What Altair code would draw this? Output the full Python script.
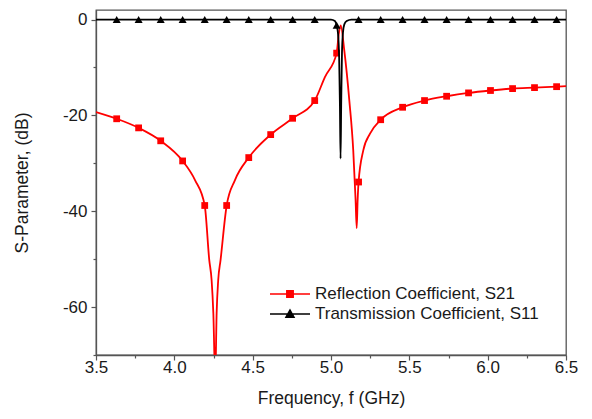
import altair as alt
import pandas as pd

series_names = ["Reflection Coefficient, S21", "Transmission Coefficient, S11"]

red_freq = [3.5, 3.632, 3.772, 3.913, 4.053, 4.132, 4.194, 4.223, 4.238, 4.249, 4.261,
            4.27, 4.28, 4.295, 4.334, 4.387, 4.475, 4.615, 4.755, 4.896, 4.961, 5.036,
            5.05, 5.062, 5.085, 5.117, 5.142, 5.157, 5.164, 5.170, 5.176, 5.206, 5.249,
            5.317, 5.457, 5.597, 5.738, 5.878, 6.018, 6.159, 6.299, 6.44, 6.5]
red_db = [-19.3, -20.7, -22.6, -25.3, -29.5, -33.5, -38.8, -50.2, -54.4, -61.3, -75.0,
          -61.3, -54.4, -50.2, -38.8, -33.5, -28.8, -24.0, -20.6, -16.9, -12.0, -7.0,
          -2.9, -1.2, -6.5, -16.9, -27.3, -37.7, -43.5, -37.7, -33.9, -27.3, -23.8,
          -20.9, -18.3, -16.9, -16.0, -15.3, -14.8, -14.4, -14.2, -14.0, -13.9]

black_freq = [3.5, 4.0, 4.5, 5.0, 5.025, 5.036, 5.045, 5.052, 5.057, 5.061, 5.065,
              5.07, 5.077, 5.085, 5.1, 5.13, 5.5, 6.0, 6.5]
black_db = [0, 0, 0, 0, -0.3, -1.2, -3.0, -8.0, -18.0, -29.0, -18.0,
            -7.0, -2.5, -1.0, -0.3, 0, 0, 0, 0]

marker_freq = [3.632, 3.772, 3.913, 4.053, 4.194, 4.334, 4.475, 4.615, 4.755, 4.896,
               5.036, 5.176, 5.317, 5.457, 5.597, 5.738, 5.878, 6.018, 6.159, 6.299, 6.44]
red_marker_db = [-20.7, -22.6, -25.3, -29.5, -38.8, -38.8, -28.8, -24.0, -20.6, -16.9,
                 -7.0, -33.9, -20.9, -18.3, -16.9, -16.0, -15.3, -14.8, -14.4, -14.2, -14.0]
black_marker_db = [0, 0, 0, 0, 0, 0, 0, 0, 0, 0,
                   -1.2, 0, 0, 0, 0, 0, 0, 0, 0, 0, 0]

x_ticks = [3.5, 3.75, 4.0, 4.25, 4.5, 4.75, 5.0, 5.25, 5.5, 5.75, 6.0, 6.25, 6.5]
y_ticks = [0, -10, -20, -30, -40, -50, -60, -70]

FONT = "Liberation Sans"
AX = "#555555"
TXT = "#1a1a1a"

major_x = "abs(datum.value*2 - round(datum.value*2)) < 0.01"
x_axis = alt.Axis(
    values=x_ticks, title="Frequency, f (GHz)", grid=False,
    labelExpr=f"{major_x} ? format(datum.value, '.1f') : ''",
    tickSize={"condition": {"test": major_x, "value": 5}, "value": 3},
    domainColor=AX, tickColor=AX, domainWidth=1.3, tickWidth=1.2,
    labelFont=FONT, labelFontSize=17, labelColor=TXT, labelPadding=-1,
    labelOverlap=False, labelFlush=False,
    titleFont=FONT, titleFontSize=17.5, titleFontWeight="normal", titleColor=TXT,
    titlePadding=14,
)
y_axis = alt.Axis(
    values=y_ticks, title="S-Parameter, (dB)", grid=False,
    labelExpr="datum.value % 20 == 0 ? datum.value + '' : ''",
    tickSize={"condition": {"test": "datum.value % 20 == 0", "value": 5}, "value": 3},
    domainColor=AX, tickColor=AX, domainWidth=1.3, tickWidth=1.2,
    labelFont=FONT, labelFontSize=17, labelColor=TXT, labelPadding=4,
    labelOverlap=False, labelFlush=False,
    titleFont=FONT, titleFontSize=17.5, titleFontWeight="normal", titleColor=TXT,
    titlePadding=31,
)

xs = alt.Scale(domain=[3.5, 6.5], nice=False, zero=False)
ys = alt.Scale(domain=[-70, 2], nice=False, zero=False)

def X():
    return alt.X("f:Q", scale=xs, axis=x_axis)

def Y():
    return alt.Y("db:Q", scale=ys, axis=y_axis)

red_df = pd.DataFrame({"f": red_freq, "db": red_db})
black_df = pd.DataFrame({"f": black_freq, "db": black_db})
red_m = pd.DataFrame({"f": marker_freq, "db": red_marker_db})
black_m = pd.DataFrame({"f": marker_freq, "db": black_marker_db})
leg_df = pd.DataFrame({"series": series_names, "f": [4.0, 4.0], "db": [-60.0, -60.0]})

red_line = alt.Chart(red_df).mark_line(color="#ff0000", strokeWidth=1.8,
                                       interpolate="monotone", clip=True).encode(x=X(), y=Y())
red_pts = alt.Chart(red_m).mark_point(shape="square", filled=True, size=46, opacity=1,
                                      color="#ff0000").encode(x=X(), y=Y())
black_line = alt.Chart(black_df).mark_line(color="#000000", strokeWidth=1.8,
                                           interpolate="monotone", clip=True).encode(x=X(), y=Y())
black_pts = alt.Chart(black_m).mark_point(shape="triangle-up", filled=True, size=64, opacity=1,
                                          color="#000000").encode(x=X(), y=Y())

sq_path = "M-1,0L1,0M-0.16,-0.16L0.16,-0.16L0.16,0.16L-0.16,0.16Z"
tri_path = "M-1,0L1,0M-0.2,0.16L0,-0.2L0.2,0.16Z"

leg = alt.Legend(title=None, orient="none", legendX=173, legendY=274,
                 symbolSize=1600, symbolStrokeWidth=1.5, clipHeight=20,
                 labelFont=FONT, labelFontSize=17, labelColor=TXT, labelOffset=4,
                 padding=0, rowPadding=0, labelLimit=400, symbolOpacity=1)

legend_layer = alt.Chart(leg_df).transform_filter("false").mark_point(
    filled=True, size=1600, opacity=1
).encode(
    x=X(), y=Y(),
    fill=alt.Fill("series:N", scale=alt.Scale(domain=series_names, range=["#ff0000", "#000000"]), legend=leg),
    stroke=alt.Stroke("series:N", scale=alt.Scale(domain=series_names, range=["#ff0000", "#000000"]), legend=leg),
    shape=alt.Shape("series:N", scale=alt.Scale(domain=series_names, range=[sq_path, tri_path]), legend=leg),
)

chart = alt.layer(red_line, red_pts, black_line, black_pts, legend_layer).properties(
    width=470, height=345,
    autosize=alt.AutoSizeParams(type="none"),
    padding={"left": 88, "top": 2, "right": 18, "bottom": 56},
    background="white",
).configure_view(stroke=AX, strokeWidth=1.3)

chart.save("out.html", embed_options={"renderer": "svg", "actions": False})
